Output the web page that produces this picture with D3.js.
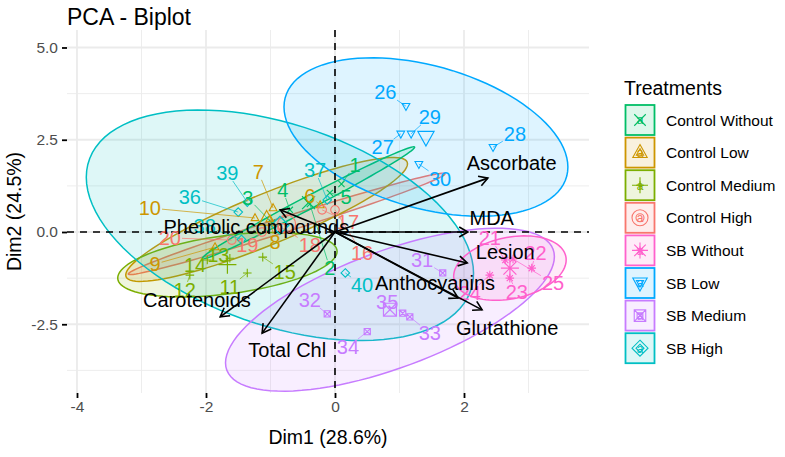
<!DOCTYPE html>
<html lang="en">
<head>
<meta charset="UTF-8">
<title>PCA - Biplot</title>
<script src="https://d3js.org/d3.v7.min.js"></script>
<style>
  body { margin: 0; background: #fff; }
  text { font-family: "Liberation Sans", Arial, Helvetica, sans-serif; }
</style>
</head>
<body>
<div id="wrapper"></div>
<script>
// groups in factor order (alphabetical) -> ggplot hue colours and pch 1..8
const groups = ["Control High", "Control Low", "Control Medium", "Control Without",
                "SB High", "SB Low", "SB Medium", "SB Without"];
const groupColors = ["#F8766D", "#CD9600", "#7CAE00", "#00BE67", "#00BFC4", "#00A9FF", "#C77CFF", "#FF61CC"];
const groupShapes = ["circle", "triangle", "plus", "cross", "diamond", "triangleDown", "squareCross", "asterisk"];
const legendOrder = ["Control Without", "Control Low", "Control Medium", "Control High",
                     "SB Without", "SB Low", "SB Medium", "SB High"];

// individuals 1..40
const indNames = d3.range(1, 41).map(String);
const indGroup = [
  "Control Without", "Control Without", "Control Without", "Control Without", "Control Without",
  "Control Low", "Control Low", "Control Low", "Control Low", "Control Low",
  "Control Medium", "Control Medium", "Control Medium", "Control Medium", "Control Medium",
  "Control High", "Control High", "Control High", "Control High", "Control High",
  "SB Without", "SB Without", "SB Without", "SB Without", "SB Without",
  "SB Low", "SB Low", "SB Low", "SB Low", "SB Low",
  "SB Medium", "SB Medium", "SB Medium", "SB Medium", "SB Medium",
  "SB High", "SB High", "SB High", "SB High", "SB High"];
const dim1 = [0.10, -0.39, -0.98, -0.70, -0.08,
              -0.23, -0.96, -1.01, -1.86, -1.24,
              -1.36, -2.25, -1.63, -1.98, -1.12,
              0.00, -0.20, -0.82, -1.13, -1.60,
              2.64, 3.05, 2.71, 2.40, 2.76,
              1.10, 1.02, 2.45, 1.18, 1.30,
              1.67, -0.12, 1.16, 0.50, 1.05,
              -1.50, -0.12, -1.45, -1.36, 0.16];
const dim2 = [1.30, 0.76, 0.25, 0.60, 1.06,
              0.73, 0.65, 0.35, -0.41, 0.38,
              -1.11, -1.17, -0.71, -0.76, -0.68,
              0.60, 0.60, 0.11, 0.00, -0.22,
              -0.76, -0.98, -1.25, -1.17, -0.73,
              3.41, 2.66, 2.30, 2.66, 1.84,
              -1.11, -2.22, -2.30, -2.70, -2.20,
              0.54, 0.87, -0.20, 0.81, -1.11];
// repelled label positions (same units)
const labDim1 = [0.31, -0.08, -1.35, -0.81, 0.17,
                 -0.39, -1.19, -0.93, -2.79, -2.87,
                 -1.63, -2.33, -1.81, -2.17, -0.78,
                 0.42, 0.20, -0.39, -1.36, -2.56,
                 2.40, 3.11, 2.82, 2.09, 3.38,
                 0.78, 0.74, 2.79, 1.47, 1.63,
                 1.35, -0.39, 1.47, 0.20, 0.81,
                 -2.25, -0.31, -2.02, -1.67, 0.42];
const labDim2 = [1.82, -0.98, 0.92, 1.14, 0.95,
                 0.98, 1.63, -0.27, -0.87, 0.65,
                 -1.49, -1.57, -0.62, -0.89, -1.08,
                 -0.57, 0.27, -0.35, -0.35, -0.16,
                 -0.16, -0.57, -1.63, -1.65, -1.38,
                 3.79, 2.30, 2.66, 3.12, 1.44,
                 -0.76, -1.84, -2.74, -3.12, -1.90,
                 0.95, 1.68, 0.16, 1.60, -1.44];

// variables
const varNames = ["Ascorbate", "MDA", "Lesion", "Anthocyanins", "Glutathione",
                  "Phenolic compounds", "Carotenoids", "Total Chl"];
const varDim1 = [2.37, 2.06, 2.05, 1.91, 2.28, -0.85, -1.78, -1.13];
const varDim2 = [1.46, 0.00, -0.84, -1.79, -2.11, 0.60, -2.30, -2.74];
const varLabDim1 = [2.74, 2.43, 2.64, 1.55, 2.67, -1.22, -2.14, -0.74];
const varLabDim2 = [1.87, 0.38, -0.54, -1.38, -2.60, 0.14, -1.84, -3.20];

const xMajor = [-4, -2, 0, 2], xMinor = [-3, -1, 1, 3];
const yMajor = [-2.5, 0, 2.5, 5], yMinor = [-3.75, -1.25, 1.25, 3.75];

const width = 785, height = 457;
const panel = {left: 67, right: 589, top: 30, bottom: 393};

const svg = d3.select("#wrapper").append("svg")
  .attr("width", width).attr("height", height);

const x = d3.scaleLinear().domain([-4.155, 3.938]).range([panel.left, panel.right]);
const y = d3.scaleLinear().domain([-4.363, 5.474]).range([panel.bottom, panel.top]);
const color = d3.scaleOrdinal().domain(groups).range(groupColors);
const shape = d3.scaleOrdinal().domain(groups).range(groupShapes);

function shapePath(type, r) {
  const k = r * 0.72;
  const plus = `M${-r},0H${r}M0,${-r}V${r}`;
  const cross = `M${-k},${-k}L${k},${k}M${-k},${k}L${k},${-k}`;
  switch (type) {
    case "circle": return `M${-r},0A${r},${r} 0 1,0 ${r},0A${r},${r} 0 1,0 ${-r},0Z`;
    case "triangle": return `M0,${-r}L${r * 0.9},${r * 0.62}L${-r * 0.9},${r * 0.62}Z`;
    case "triangleDown": return `M0,${r}L${r * 0.9},${-r * 0.62}L${-r * 0.9},${-r * 0.62}Z`;
    case "plus": return plus;
    case "cross": return cross;
    case "diamond": return `M0,${-r}L${r},0L0,${r}L${-r},0Z`;
    case "squareCross": return `M${-k},${-k}H${k}V${k}H${-k}Z` + cross;
    case "asterisk": return plus + cross;
  }
}

// grid
const grid = svg.append("g");
grid.selectAll(".xmin").data(xMinor).join("line")
  .attr("x1", d => x(d)).attr("x2", d => x(d)).attr("y1", panel.top).attr("y2", panel.bottom)
  .attr("stroke", "#EBEBEB").attr("stroke-width", 0.9);
grid.selectAll(".ymin").data(yMinor).join("line")
  .attr("y1", d => y(d)).attr("y2", d => y(d)).attr("x1", panel.left).attr("x2", panel.right)
  .attr("stroke", "#EBEBEB").attr("stroke-width", 0.9);
grid.selectAll(".xmaj").data(xMajor).join("line")
  .attr("x1", d => x(d)).attr("x2", d => x(d)).attr("y1", panel.top).attr("y2", panel.bottom)
  .attr("stroke", "#EBEBEB").attr("stroke-width", 1.8);
grid.selectAll(".ymaj").data(yMajor).join("line")
  .attr("y1", d => y(d)).attr("y2", d => y(d)).attr("x1", panel.left).attr("x2", panel.right)
  .attr("stroke", "#EBEBEB").attr("stroke-width", 1.8);

// axes
const xAxis = svg.append("g").attr("transform", `translate(0,${panel.bottom})`)
  .call(d3.axisBottom(x).tickValues(xMajor).tickSize(5).tickPadding(3).tickFormat(d => String(d)));
const yAxis = svg.append("g").attr("transform", `translate(${panel.left},0)`)
  .call(d3.axisLeft(y).tickValues(yMajor).tickSize(5).tickPadding(4).tickFormat(d => d.toFixed(1)));
[xAxis, yAxis].forEach(a => {
  a.select(".domain").remove();
  a.selectAll(".tick line").attr("stroke", "#000").attr("stroke-width", 1.8);
  a.selectAll(".tick text").attr("fill", "#4D4D4D").style("font-size", "15.5px")
    .style("font-family", '"Liberation Sans", Arial, sans-serif');
});

// rows of individuals
const inds = indNames.map((n, i) => ({
  name: n, group: indGroup[i], x: dim1[i], y: dim2[i], lx: labDim1[i], ly: labDim2[i]
}));

// normal-theory 95% ellipses (stat_ellipse, type = "norm")
const F95 = {5: 6.944272}; // qf(0.95, 2, n - 1)
const ellipses = groups.map(g => {
  const pts = inds.filter(d => d.group === g);
  const n = pts.length;
  const mx = d3.mean(pts, d => d.x), my = d3.mean(pts, d => d.y);
  const sxx = d3.sum(pts, d => (d.x - mx) ** 2) / (n - 1);
  const syy = d3.sum(pts, d => (d.y - my) ** 2) / (n - 1);
  const sxy = d3.sum(pts, d => (d.x - mx) * (d.y - my)) / (n - 1);
  const r = Math.sqrt(2 * F95[n]);
  const a = Math.sqrt(sxx), b = sxy / a, c = Math.sqrt(syy - b * b);
  const ring = d3.range(0, 101).map(k => {
    const t = 2 * Math.PI * k / 100, ct = Math.cos(t), st = Math.sin(t);
    return [mx + r * ct * a, my + r * (ct * b + st * c)];
  });
  return {group: g, mx, my, ring};
});

const line = d3.line().x(d => x(d[0])).y(d => y(d[1]));
svg.append("g").selectAll("path").data(ellipses).join("path")
  .attr("d", d => line(d.ring) + "Z")
  .attr("fill", d => color(d.group)).attr("fill-opacity", 0.13)
  .attr("stroke", d => color(d.group)).attr("stroke-width", 1.5);

// dashed zero lines
svg.append("line").attr("x1", panel.left).attr("x2", panel.right)
  .attr("y1", y(0)).attr("y2", y(0))
  .attr("stroke", "#000").attr("stroke-width", 1.6).attr("stroke-dasharray", "7,6");
svg.append("line").attr("y1", panel.top).attr("y2", panel.bottom)
  .attr("x1", x(0)).attr("x2", x(0))
  .attr("stroke", "#000").attr("stroke-width", 1.6).attr("stroke-dasharray", "7,6");

// points
svg.append("g").selectAll("path").data(inds).join("path")
  .attr("transform", d => `translate(${x(d.x)},${y(d.y)})`)
  .attr("d", d => shapePath(shape(d.group), 4.3))
  .attr("fill", "none").attr("stroke", d => color(d.group)).attr("stroke-width", 1.1);

// group mean points
svg.append("g").selectAll("path").data(ellipses).join("path")
  .attr("transform", d => `translate(${x(d.mx)},${y(d.my)})`)
  .attr("d", d => shapePath(shape(d.group), 9))
  .attr("fill", "none").attr("stroke", d => color(d.group)).attr("stroke-width", 1.2);

// labels of individuals + segments to their points
const segG = svg.append("g");
const labs = svg.append("g").selectAll("text").data(inds).join("text")
  .attr("x", d => x(d.lx)).attr("y", d => y(d.ly)).attr("dy", "0.36em")
  .attr("text-anchor", "middle").style("font-size", "20px")
  .attr("fill", d => color(d.group)).text(d => d.name);
labs.each(function (d) {
  const hw = this.getComputedTextLength() / 2 + 1, hh = 8;
  const cx = x(d.lx), cy = y(d.ly), px = x(d.x), py = y(d.y);
  const dx = px - cx, dy = py - cy;
  const t = Math.min(hw / Math.abs(dx || 1e-9), hh / Math.abs(dy || 1e-9));
  if (t >= 0.85) return;
  segG.append("line")
    .attr("x1", cx + t * dx).attr("y1", cy + t * dy).attr("x2", px).attr("y2", py)
    .attr("stroke", color(d.group)).attr("stroke-width", 0.7);
});

// variable arrows
const vars = varNames.map((n, i) => ({name: n, x: varDim1[i], y: varDim2[i], lx: varLabDim1[i], ly: varLabDim2[i]}));
const arrows = svg.append("g").attr("stroke", "#000").attr("stroke-width", 1.6).attr("fill", "none");
vars.forEach(v => {
  const x0 = x(0), y0 = y(0), x1 = x(v.x), y1 = y(v.y);
  const ang = Math.atan2(y1 - y0, x1 - x0), L = 10, w = Math.PI / 6;
  arrows.append("line").attr("x1", x0).attr("y1", y0).attr("x2", x1).attr("y2", y1);
  arrows.append("path").attr("d",
    `M${x1 - L * Math.cos(ang - w)},${y1 - L * Math.sin(ang - w)}L${x1},${y1}` +
    `L${x1 - L * Math.cos(ang + w)},${y1 - L * Math.sin(ang + w)}`);
});
svg.append("g").selectAll("text").data(vars).join("text")
  .attr("x", d => x(d.lx)).attr("y", d => y(d.ly)).attr("dy", "0.36em")
  .attr("text-anchor", "middle").style("font-size", "20px").attr("fill", "#000")
  .text(d => d.name);

// titles
svg.append("text").attr("x", panel.left).attr("y", 25).style("font-size", "23px").text("PCA - Biplot");
svg.append("text").attr("x", (panel.left + panel.right) / 2).attr("y", 444)
  .attr("text-anchor", "middle").style("font-size", "19.5px").text("Dim1 (28.6%)");
svg.append("text").attr("transform", `translate(21,${(panel.top + panel.bottom) / 2}) rotate(-90)`)
  .attr("text-anchor", "middle").style("font-size", "19.5px").text("Dim2 (24.5%)");

// legend
const legend = svg.append("g").attr("transform", "translate(624,0)");
legend.append("text").attr("x", 0).attr("y", 95).style("font-size", "19.5px").text("Treatments");
const keys = legend.selectAll("g").data(legendOrder).join("g")
  .attr("transform", (d, i) => `translate(0,${105 + i * 32.6})`);
keys.append("rect").attr("x", 1.5).attr("y", 0).attr("width", 29).attr("height", 30)
  .attr("fill", d => color(d)).attr("fill-opacity", 0.13)
  .attr("stroke", d => color(d)).attr("stroke-width", 1.8);
keys.append("path").attr("transform", "translate(16,15)")
  .attr("d", d => shapePath(shape(d), 8))
  .attr("fill", "none").attr("stroke", d => color(d)).attr("stroke-width", 1.1);
keys.append("path").attr("transform", "translate(16,15)")
  .attr("d", d => shapePath(shape(d), 4))
  .attr("fill", "none").attr("stroke", d => color(d)).attr("stroke-width", 1.1);
keys.append("text").attr("x", 16).attr("y", 15).attr("dy", "0.36em").attr("text-anchor", "middle")
  .style("font-size", "12px").attr("fill", d => color(d)).text("a");
keys.append("text").attr("x", 42).attr("y", 15).attr("dy", "0.36em")
  .style("font-size", "15.5px").attr("fill", "#000").text(d => d);
</script>
</body>
</html>
